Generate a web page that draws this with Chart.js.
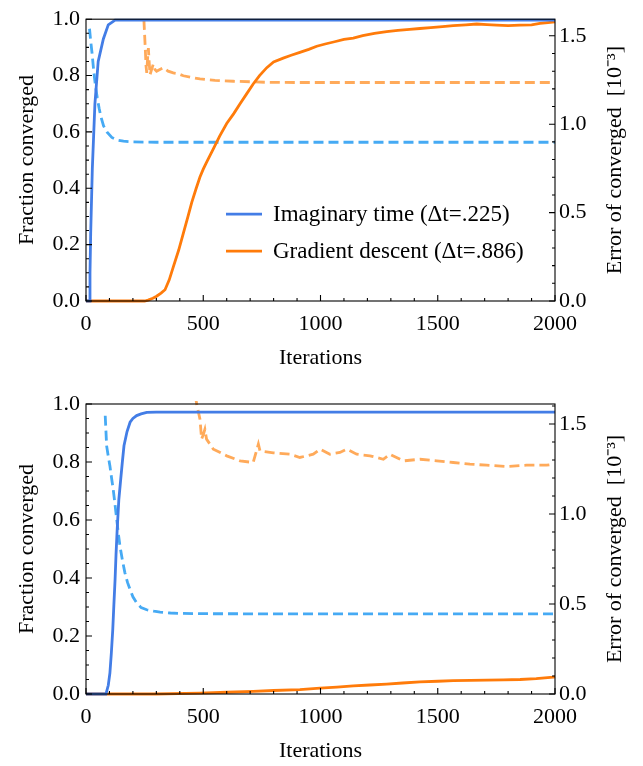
<!DOCTYPE html>
<html>
<head>
<meta charset="utf-8">
<script src="https://cdn.jsdelivr.net/npm/chart.js@4.4.0/dist/chart.umd.min.js"></script>
<style>
  body { margin: 0; background: #fff; }
  .box { position: relative; width: 643px; height: 383px; }
</style>
</head>
<body>
<div class="box"><canvas id="topChart"></canvas></div>
<div class="box"><canvas id="bottomChart"></canvas></div>
<script>
// tick labels
var xTicks = [0, 500, 1000, 1500, 2000];
var fracTicks = [0.0, 0.2, 0.4, 0.6, 0.8, 1.0];
var errTicks = [0.0, 0.5, 1.0, 1.5];
var legendLabels = ["Imaginary time (\u0394t=.225)", "Gradient descent (\u0394t=.886)"];

///////////////////////////// top panel
var topImagIter = [0, 14, 17, 20, 27, 38, 52, 74, 95, 124, 200, 500, 1000, 1500, 2000];
var topImagFrac = [0, 0, 0.1, 0.24, 0.47, 0.70, 0.85, 0.93, 0.98, 0.997, 0.997, 0.997, 0.997, 0.997, 0.997];
var topImagErrIter = [15, 20, 26, 33, 40, 48, 56, 64, 75, 90, 110, 135, 160, 200, 300, 500, 1000, 1500, 2000];
var topImagErr = [1.54, 1.47, 1.40, 1.30, 1.22, 1.15, 1.09, 1.04, 0.99, 0.955, 0.925, 0.91, 0.904, 0.9, 0.898, 0.898, 0.898, 0.898, 0.898];

var topGradIter = [0, 250, 265, 285, 301, 320, 337, 355, 372, 395, 415, 435, 451, 470, 486, 500, 515, 543, 570, 600, 630, 657, 685, 713, 740, 771, 800, 841, 875, 912, 950, 984, 1020, 1060, 1100, 1140, 1180, 1230, 1282, 1330, 1380, 1424, 1470, 1520, 1566, 1620, 1666, 1710, 1751, 1800, 1851, 1900, 1936, 1970, 2000];
var topGradFrac = [0, 0, 0.003, 0.01, 0.017, 0.028, 0.04, 0.075, 0.12, 0.18, 0.24, 0.3, 0.35, 0.4, 0.44, 0.468, 0.494, 0.54, 0.585, 0.63, 0.665, 0.70, 0.735, 0.77, 0.80, 0.828, 0.848, 0.862, 0.872, 0.882, 0.893, 0.904, 0.912, 0.92, 0.928, 0.933, 0.942, 0.95, 0.956, 0.96, 0.964, 0.967, 0.97, 0.974, 0.977, 0.98, 0.983, 0.981, 0.979, 0.977, 0.979, 0.98, 0.985, 0.988, 0.991];
var topGradErrIter = [247, 252, 256, 259, 263, 266, 270, 273, 280, 287, 294, 301, 315, 330, 350, 372, 395, 415, 450, 486, 550, 628, 700, 770, 900, 1200, 1600, 2000];
var topGradErr = [1.59, 1.45, 1.33, 1.29, 1.38, 1.43, 1.34, 1.28, 1.31, 1.34, 1.31, 1.30, 1.31, 1.32, 1.30, 1.29, 1.285, 1.274, 1.265, 1.256, 1.248, 1.243, 1.240, 1.237, 1.236, 1.236, 1.236, 1.236];

///////////////////////////// bottom panel
var botImagIter = [0, 85, 95, 102, 108, 114, 119, 124, 128, 133, 140, 148, 155, 162, 175, 188, 200, 216, 235, 259, 300, 400, 800, 1200, 1600, 2000];
var botImagFrac = [0, 0, 0.03, 0.073, 0.14, 0.22, 0.31, 0.395, 0.48, 0.568, 0.67, 0.74, 0.80, 0.856, 0.905, 0.937, 0.95, 0.96, 0.966, 0.971, 0.972, 0.972, 0.972, 0.972, 0.972, 0.972];
var botImagErrIter = [82, 88, 95, 102, 109, 116, 124, 131, 138, 145, 155, 166, 177, 188, 200, 216, 235, 259, 290, 316, 360, 401, 500, 1000, 1500, 2000];
var botImagErr = [1.546, 1.378, 1.32, 1.267, 1.2, 1.137, 1.05, 0.97, 0.89, 0.821, 0.745, 0.673, 0.62, 0.58, 0.54, 0.506, 0.48, 0.468, 0.46, 0.455, 0.45, 0.448, 0.446, 0.445, 0.445, 0.445];

var botGradIter = [0, 300, 486, 600, 713, 800, 912, 998, 1070, 1140, 1210, 1282, 1350, 1424, 1500, 1566, 1640, 1708, 1780, 1851, 1920, 1993, 2000];
var botGradFrac = [0, 0, 0.003, 0.006, 0.009, 0.012, 0.015, 0.02, 0.024, 0.028, 0.031, 0.034, 0.038, 0.042, 0.044, 0.046, 0.047, 0.048, 0.049, 0.05, 0.053, 0.058, 0.059];
var botGradErrIter = [466, 472, 486, 493, 500, 507, 514, 543, 600, 657, 713, 735, 742, 799, 870, 912, 969, 998, 1040, 1083, 1112, 1154, 1211, 1268, 1296, 1353, 1424, 1496, 1566, 1637, 1708, 1794, 1879, 1964, 1993];
var botGradErr = [1.66, 1.611, 1.527, 1.416, 1.44, 1.47, 1.416, 1.36, 1.323, 1.295, 1.286, 1.388, 1.35, 1.34, 1.332, 1.314, 1.332, 1.36, 1.332, 1.342, 1.36, 1.332, 1.323, 1.304, 1.332, 1.295, 1.304, 1.295, 1.286, 1.277, 1.271, 1.264, 1.271, 1.271, 1.277];

var FONT = "'Liberation Serif', 'Times New Roman', serif";
var blueSolid = "#437de6", blueDash = "#46aaf4", orangeSolid = "#ff7b0a", orangeDash = "#ffaa5a";

function pts(xs, ys) {
  return xs.map(function (x, i) { return { x: x, y: ys[i] }; });
}

// frame, inward ticks, right title, legend
var frameTicks = {
  id: "frameTicks",
  afterDraw: function (chart, args, opts) {
    var ctx = chart.ctx, a = chart.chartArea;
    var sx = chart.scales.x, sl = chart.scales.y, sr = chart.scales.y1;
    ctx.save();
    ctx.strokeStyle = "#000";
    ctx.lineWidth = 1.1;
    ctx.strokeRect(a.left, a.top, a.right - a.left, a.bottom - a.top);
    ctx.beginPath();
    var v, p, len;
    for (v = 0; v <= 2000; v += 100) {
      p = sx.getPixelForValue(v);
      len = v % 500 === 0 ? 6 : 3;
      ctx.moveTo(p, a.bottom); ctx.lineTo(p, a.bottom - len);
    }
    for (v = 0; v <= 20; v++) {
      p = sl.getPixelForValue(v * 0.05);
      len = v % 4 === 0 ? 6 : 3;
      ctx.moveTo(a.left, p); ctx.lineTo(a.left + len, p);
    }
    for (v = 0; v * 0.1 <= sr.max; v++) {
      p = sr.getPixelForValue(v * 0.1);
      len = v % 5 === 0 ? 6 : 3;
      ctx.moveTo(a.right, p); ctx.lineTo(a.right - len, p);
    }
    ctx.stroke();

    // right axis title, reading bottom to top
    ctx.fillStyle = "#000";
    ctx.font = "22px " + FONT;
    ctx.textAlign = "center";
    ctx.textBaseline = "middle";
    ctx.translate(a.right + 60, (a.top + a.bottom) / 2);
    ctx.rotate(-Math.PI / 2);
    ctx.fillText("Error of converged  [10\u207B\u00B3]", 0, 0);
    ctx.restore();

    if (opts.legend) {
      ctx.save();
      ctx.font = "23px " + FONT;
      ctx.textAlign = "left";
      ctx.textBaseline = "middle";
      ctx.fillStyle = "#000";
      ctx.lineWidth = 2.8;
      var cols = [blueSolid, orangeSolid];
      var ly = [a.top + 195, a.top + 232];
      for (var i = 0; i < 2; i++) {
        ctx.strokeStyle = cols[i];
        ctx.beginPath();
        ctx.moveTo(a.left + 140, ly[i]); ctx.lineTo(a.left + 176, ly[i]);
        ctx.stroke();
        ctx.fillText(legendLabels[i], a.left + 187, ly[i] + 1);
      }
      ctx.restore();
    }
  }
};

function makeChart(id, d, errMax, xHeight, xTitlePad, padTop, showLegend) {
  var tickFont = { family: FONT, size: 22 };
  return new Chart(document.getElementById(id), {
    type: "line",
    data: {
      datasets: [
        { data: pts(d[0], d[1]), borderColor: blueSolid, yAxisID: "y", order: 1 },
        { data: pts(d[2], d[3]), borderColor: orangeSolid, yAxisID: "y", order: 2 },
        { data: pts(d[4], d[5]), borderColor: blueDash, borderDash: [10, 5], yAxisID: "y1", order: 3 },
        { data: pts(d[6], d[7]), borderColor: orangeDash, borderDash: [10, 5], yAxisID: "y1", order: 4 }
      ]
    },
    options: {
      responsive: true,
      maintainAspectRatio: false,
      animation: false,
      devicePixelRatio: 1,
      layout: { padding: { top: padTop, left: 0, right: 0, bottom: 0 } },
      elements: { point: { radius: 0 }, line: { borderWidth: 2.8, tension: 0 } },
      datasets: { line: { clip: 3 } },
      plugins: { legend: { display: false }, tooltip: { enabled: false }, frameTicks: { legend: showLegend } },
      scales: {
        x: {
          type: "linear", min: 0, max: 2000,
          grid: { display: false, drawTicks: false }, border: { display: false },
          afterBuildTicks: function (s) { s.ticks = xTicks.map(function (v) { return { value: v }; }); },
          afterFit: function (s) { s.height = xHeight; },
          ticks: { color: "#000", font: tickFont, padding: 10, maxRotation: 0, callback: function (v) { return String(v); } },
          title: { display: true, text: "Iterations", color: "#000", font: { family: FONT, size: 22 }, padding: { top: 0, bottom: xTitlePad } }
        },
        y: {
          position: "left", min: 0, max: 1,
          grid: { display: false, drawTicks: false }, border: { display: false },
          afterBuildTicks: function (s) { s.ticks = fracTicks.map(function (v) { return { value: v }; }); },
          afterFit: function (s) { s.width = 86; },
          ticks: { color: "#000", font: tickFont, padding: 6, callback: function (v) { return v.toFixed(1); } },
          title: { display: true, text: "Fraction converged", color: "#000", font: { family: FONT, size: 22 }, padding: { top: 14, bottom: 0 } }
        },
        y1: {
          position: "right", min: 0, max: errMax,
          grid: { display: false, drawTicks: false }, border: { display: false },
          afterBuildTicks: function (s) { s.ticks = errTicks.map(function (v) { return { value: v }; }); },
          afterFit: function (s) { s.width = 88; },
          ticks: { color: "#000", font: tickFont, padding: 4, callback: function (v) { return v.toFixed(1); } }
        }
      }
    },
    plugins: [frameTicks]
  });
}

makeChart("topChart", [topImagIter, topImagFrac, topGradIter, topGradFrac, topImagErrIter, topImagErr, topGradErrIter, topGradErr], 1.594, 82, 12, 14, true);
makeChart("bottomChart", [botImagIter, botImagFrac, botGradIter, botGradFrac, botImagErrIter, botImagErr, botGradErrIter, botGradErr], 1.611, 72, 2, 21, false);
</script>
</body>
</html>
